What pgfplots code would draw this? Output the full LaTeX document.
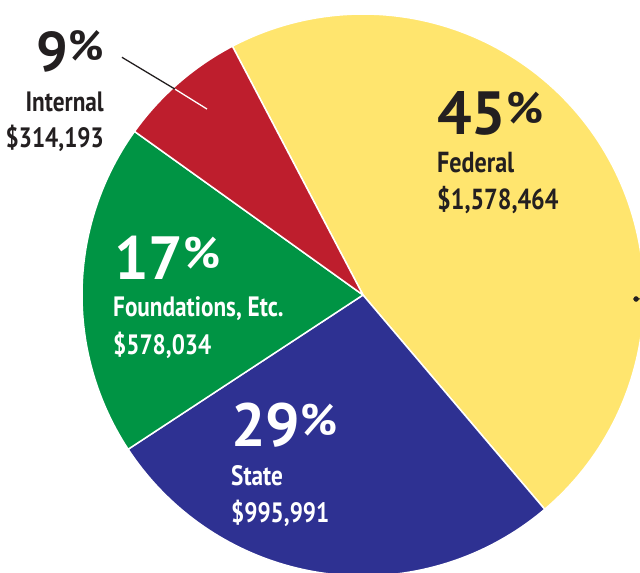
\documentclass[border=0pt]{standalone}
\usepackage{pgfplots}
\pgfplotsset{compat=1.18}
\usepgfplotslibrary{polar}
\usepackage{fontspec}
\setmainfont{PT Sans}
\newfontfamily\numfont{PT Sans}
\newfontfamily\labfont{PT Sans}[FakeStretch=0.83]
\definecolor{cyel}{HTML}{FFE56E}
\definecolor{cblu}{HTML}{2E3192}
\definecolor{cgrn}{HTML}{009444}
\definecolor{cred}{HTML}{BE1E2D}
\definecolor{ctxt}{HTML}{231F20}
\newcommand{\pct}[1]{\raisebox{11pt}{\fontsize{#1}{#1}\selectfont\%}}
\begin{document}
\begin{tikzpicture}[x=1pt,y=1pt]
\path[use as bounding box] (0,0) rectangle (640,573);
\clip (0,0) rectangle (640,573);
\begin{polaraxis}[
  at={(363pt,278pt)}, anchor=origin,
  scale only axis, width=562pt, height=562pt,
  ymin=0, ymax=1, hide axis, clip=false,
]
% slice boundaries (degrees, counter-clockwise from +x)
\addplot[fill=cyel, draw=white, line width=1.5pt, domain=-49.7:117.7, samples=120] {1} -- (axis cs:0,0) -- cycle;
\addplot[fill=cblu, draw=white, line width=1.5pt, domain=-146.7:-49.7, samples=80] {1} -- (axis cs:0,0) -- cycle;
\addplot[fill=cgrn, draw=white, line width=1.5pt, domain=144.4:213.3, samples=60] {1} -- (axis cs:0,0) -- cycle;
\addplot[fill=cred, draw=white, line width=1.5pt, domain=117.7:144.4, samples=30] {1} -- (axis cs:0,0) -- cycle;
% leader line
\addplot[ctxt, line width=1.3pt] coordinates {(135.4,1.205) (132.4,0.992)};
\addplot[white, line width=1.3pt] coordinates {(132.4,0.992) (130.0,0.864)};
\addplot[ctxt, mark=*, mark size=2.5pt, only marks] coordinates {(-0.84,0.972)};
\addplot[ctxt, line width=1pt] coordinates {(-0.84,0.972) (-0.8,1.0)};
\end{polaraxis}
% labels
\node[anchor=base east, inner sep=0, text=ctxt, font=\numfont\bfseries\fontsize{56}{56}\selectfont] at (104,501) {9\pct{42}};
\node[anchor=base east, inner sep=0, text=ctxt, font=\labfont\bfseries\fontsize{28}{28}\selectfont] at (104,461) {Internal};
\node[anchor=base east, inner sep=0, text=ctxt, font=\labfont\bfseries\fontsize{28}{28}\selectfont] at (104,425) {\$314,193};
\node[anchor=base west, inner sep=0, text=ctxt, font=\numfont\bfseries\fontsize{61}{61}\selectfont] at (437,438) {45\pct{44}};
\node[anchor=base west, inner sep=0, text=ctxt, font=\labfont\bfseries\fontsize{29}{29}\selectfont] at (437,400) {Federal};
\node[anchor=base west, inner sep=0, text=ctxt, font=\labfont\bfseries\fontsize{29}{29}\selectfont] at (437,363) {\$1,578,464};
\node[anchor=base west, inner sep=0, text=white, font=\numfont\bfseries\fontsize{61}{61}\selectfont] at (114,293) {17\pct{44}};
\node[anchor=base west, inner sep=0, text=white, font=\labfont\bfseries\fontsize{28}{28}\selectfont] at (113,256) {Foundations, Etc.};
\node[anchor=base west, inner sep=0, text=white, font=\labfont\bfseries\fontsize{28}{28}\selectfont] at (113,218) {\$578,034};
\node[anchor=base west, inner sep=0, text=white, font=\numfont\bfseries\fontsize{61}{61}\selectfont] at (231,126) {29\pct{44}};
\node[anchor=base west, inner sep=0, text=white, font=\labfont\bfseries\fontsize{28}{28}\selectfont] at (231,87) {State};
\node[anchor=base west, inner sep=0, text=white, font=\labfont\bfseries\fontsize{28}{28}\selectfont] at (231,50) {\$995,991};
\end{tikzpicture}
\end{document}
